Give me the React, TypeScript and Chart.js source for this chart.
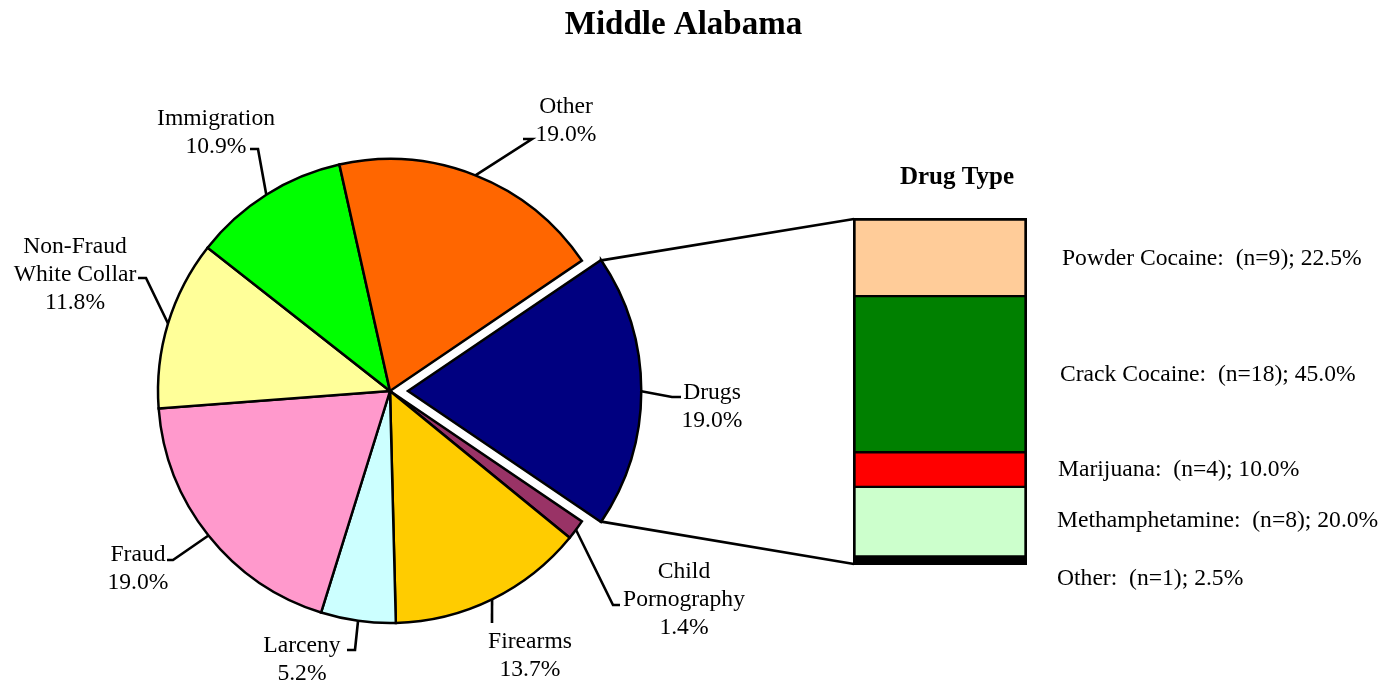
import React, { useEffect, useRef } from 'react';
import { Chart, registerables } from 'chart.js';

Chart.register(...registerables);

// ---------- data ----------
const chartTitle = 'Middle Alabama';
const pieCategories = ['Drugs', 'Child\nPornography', 'Firearms', 'Larceny', 'Fraud', 'Non-Fraud\nWhite Collar', 'Immigration', 'Other'];
const piePercents = [19.0, 1.4, 13.7, 5.2, 19.0, 11.8, 10.9, 19.0];
const pieColors = ['#000080', '#993366', '#FFCC00', '#CCFFFF', '#FF99CC', '#FFFF99', '#00FF00', '#FF6600'];

const barTitle = 'Drug Type';
const barCategory = ['Drugs'];
const drugTypes = ['Powder Cocaine', 'Crack Cocaine', 'Marijuana', 'Methamphetamine', 'Other'];
const drugCounts = [9, 18, 4, 8, 1];
const drugPercents = [22.5, 45.0, 10.0, 20.0, 2.5];
const drugColors = ['#FFCC99', '#008000', '#FF0000', '#CCFFCC', '#000000'];

// ---------- layout ----------
const W = 1399;
const H = 682;
const PIE_CX = 390;
const PIE_CY = 391;
const PIE_R = 232;
const EXPLODE_PX = 18;
const ARC_OFFSET_DIVISOR = 4; // Chart.js v4 draws arcs offset by offset/4
const BAR_BOX = { left: 853, top: 218, right: 1027, bottom: 565 };
const SERIF = '"Liberation Serif", "Times New Roman", Times, serif';
const LABEL_FONT = `23.6px ${SERIF}`;
const LINE_H = 28;
const TEXT_DY = 2;
const LINE_W = 2.6;

const pieLabelLayout = [
  { cx: 712, y: 391, elbow: [672, 397], stub: [681, 397] },
  { cx: 684, y: 570, elbow: [613, 605], stub: [620, 605] },
  { cx: 530, y: 640, elbow: [492, 623], stub: [492, 623] },
  { cx: 302, y: 644, elbow: [355, 650], stub: [347, 650] },
  { cx: 138, y: 553, elbow: [173, 560], stub: [167, 560] },
  { cx: 75, y: 245, elbow: [146, 278], stub: [138, 278] },
  { cx: 216, y: 117, elbow: [258, 149], stub: [250, 149] },
  { cx: 566, y: 105, elbow: [532, 139], stub: [523, 139] },
];

const drugLabelLayout = [
  { x: 1062, y: 257 },
  { x: 1060, y: 373 },
  { x: 1058, y: 468 },
  { x: 1057, y: 519 },
  { x: 1057, y: 577 },
];

export default function App() {
  const pieRef = useRef<HTMLCanvasElement | null>(null);
  const barRef = useRef<HTMLCanvasElement | null>(null);

  useEffect(() => {
    if (!pieRef.current || !barRef.current) return;

    const rotation = 90 - (piePercents[0] / 100) * 360 / 2;

    const pieLabelPlugin = {
      id: 'pieLabels',
      afterDraw(chart: any) {
        const ctx = chart.ctx as CanvasRenderingContext2D;
        ctx.save();
        ctx.fillStyle = '#000';
        ctx.textAlign = 'center';
        ctx.textBaseline = 'middle';
        ctx.font = `bold 33px ${SERIF}`;
        ctx.fillText(chartTitle, 683.5, 23 + TEXT_DY);

        const meta = chart.getDatasetMeta(0);
        meta.data.forEach((arc: any, i: number) => {
          const p = arc.getProps(['x', 'y', 'startAngle', 'endAngle', 'outerRadius'], true);
          const mid = (p.startAngle + p.endAngle) / 2;
          const off = (arc.options.offset || 0) / ARC_OFFSET_DIVISOR;
          const ex = p.x + Math.cos(mid) * (p.outerRadius + off);
          const ey = p.y + Math.sin(mid) * (p.outerRadius + off);
          const L = pieLabelLayout[i];
          ctx.beginPath();
          ctx.moveTo(ex, ey);
          ctx.lineTo(L.elbow[0], L.elbow[1]);
          ctx.lineTo(L.stub[0], L.stub[1]);
          ctx.lineWidth = LINE_W;
          ctx.strokeStyle = '#000';
          ctx.lineJoin = 'miter';
          ctx.stroke();

          const lines = [...pieCategories[i].split('\n'), piePercents[i].toFixed(1) + '%'];
          ctx.font = LABEL_FONT;
          lines.forEach((t, k) => ctx.fillText(t, L.cx, L.y + TEXT_DY + k * LINE_H));
        });
        ctx.restore();
      },
    };

    const pie = new Chart(pieRef.current, {
      type: 'pie',
      data: {
        labels: pieCategories,
        datasets: [
          {
            data: piePercents,
            backgroundColor: pieColors,
            borderColor: '#000000',
            borderWidth: 2.5,
            hoverBorderWidth: 2.5,
            borderJoinStyle: 'miter',
            offset: pieCategories.map((_, i) => (i === 0 ? EXPLODE_PX * ARC_OFFSET_DIVISOR : 0)),
            hoverOffset: 0,
          } as any,
        ],
      },
      options: {
        animation: false,
        responsive: false,
        devicePixelRatio: 1,
        events: [],
        radius: PIE_R,
        rotation,
        layout: { padding: { left: 0, right: W - 2 * PIE_CX, top: 2 * PIE_CY - H, bottom: 0 } },
        plugins: { legend: { display: false }, tooltip: { enabled: false }, title: { display: false } },
      } as any,
      plugins: [pieLabelPlugin],
    });

    const n = drugTypes.length;
    const barPlugin = {
      id: 'barExtras',
      afterDraw(chart: any) {
        const ctx = chart.ctx as CanvasRenderingContext2D;
        const fb = chart.getDatasetMeta(0).data[0].getProps(['x', 'y', 'base', 'width'], true);
        const lb = chart.getDatasetMeta(n - 1).data[0].getProps(['x', 'y', 'base', 'width'], true);
        const left = fb.x - fb.width / 2;
        const top = Math.min(fb.y, fb.base);
        const bottom = Math.max(lb.y, lb.base);
        ctx.save();
        const arc: any = pie.getDatasetMeta(0).data[0];
        if (arc) {
          const p = arc.getProps(['x', 'y', 'startAngle', 'endAngle', 'outerRadius'], true);
          const mid = (p.startAngle + p.endAngle) / 2;
          const off = (arc.options.offset || 0) / ARC_OFFSET_DIVISOR;
          const cx = p.x + Math.cos(mid) * off;
          const cy = p.y + Math.sin(mid) * off;
          ctx.beginPath();
          ctx.moveTo(cx + Math.cos(p.startAngle) * p.outerRadius, cy + Math.sin(p.startAngle) * p.outerRadius);
          ctx.lineTo(left + 1, top + 1);
          ctx.moveTo(cx + Math.cos(p.endAngle) * p.outerRadius, cy + Math.sin(p.endAngle) * p.outerRadius);
          ctx.lineTo(left + 1, bottom - 1);
          ctx.lineWidth = LINE_W;
          ctx.strokeStyle = '#000';
          ctx.stroke();
        }
        ctx.fillStyle = '#000';
        ctx.textBaseline = 'middle';
        ctx.textAlign = 'center';
        ctx.font = `bold 25px ${SERIF}`;
        ctx.fillText(barTitle, (BAR_BOX.left + BAR_BOX.right) / 2 + 17, 176 + TEXT_DY);
        ctx.textAlign = 'left';
        ctx.font = LABEL_FONT;
        drugTypes.forEach((name, i) => {
          const L = drugLabelLayout[i];
          ctx.fillText(`${name}:  (n=${drugCounts[i]}); ${drugPercents[i].toFixed(1)}%`, L.x, L.y + TEXT_DY);
        });
        ctx.restore();
      },
    };

    const bar = new Chart(barRef.current, {
      type: 'bar',
      data: {
        labels: barCategory,
        datasets: drugTypes.map((name, i) => ({
          label: name,
          data: [drugPercents[i]],
          backgroundColor: drugColors[i],
          borderColor: '#000000',
          borderWidth: { top: i === 0 ? 3 : 1.5, bottom: i === n - 1 ? 3 : 1.5, left: 3, right: 3 },
          borderSkipped: false,
          barPercentage: 1,
          categoryPercentage: 1,
        })) as any,
      },
      options: {
        animation: false,
        responsive: false,
        devicePixelRatio: 1,
        events: [],
        layout: {
          padding: { left: BAR_BOX.left, top: BAR_BOX.top, right: W - BAR_BOX.right, bottom: H - BAR_BOX.bottom },
        },
        scales: {
          x: { display: false, stacked: true },
          y: { display: false, stacked: true, min: 0, max: 100, reverse: true },
        },
        plugins: { legend: { display: false }, tooltip: { enabled: false }, title: { display: false } },
      } as any,
      plugins: [barPlugin],
    });

    return () => {
      bar.destroy();
      pie.destroy();
    };
  }, []);

  const canvasStyle: React.CSSProperties = { position: 'absolute', left: 0, top: 0, width: W, height: H };
  return (
    <div style={{ position: 'absolute', left: 0, top: 0, width: W, height: H, background: '#fff', overflow: 'hidden' }}>
      <canvas ref={pieRef} width={W} height={H} style={canvasStyle} />
      <canvas ref={barRef} width={W} height={H} style={canvasStyle} />
    </div>
  );
}
